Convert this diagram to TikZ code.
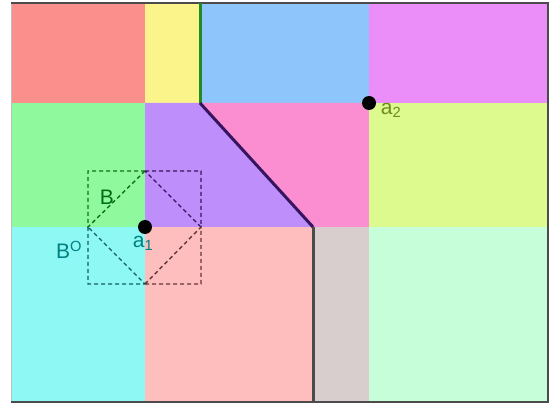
\documentclass[tikz,border=0pt]{standalone}
\usepackage{fontspec}
\setmainfont{Liberation Sans}
\definecolor{cRed}{RGB}{250,143,140}
\definecolor{cYellow}{RGB}{250,244,138}
\definecolor{cBlue}{RGB}{142,198,251}
\definecolor{cMagenta}{RGB}{236,142,249}
\definecolor{cGreen}{RGB}{143,249,157}
\definecolor{cPurple}{RGB}{190,142,250}
\definecolor{cPink}{RGB}{251,142,208}
\definecolor{cLime}{RGB}{220,250,141}
\definecolor{cCyan}{RGB}{142,249,244}
\definecolor{cLightPink}{RGB}{254,190,190}
\definecolor{cGrey}{RGB}{216,206,206}
\definecolor{cMint}{RGB}{197,254,217}
\definecolor{dGreen}{RGB}{20,110,30}
\definecolor{dPurple}{RGB}{55,20,95}
\definecolor{dTeal}{RGB}{20,95,95}
\definecolor{dBrown}{RGB}{100,55,55}
\definecolor{lTeal}{RGB}{0,128,128}
\definecolor{lOlive}{RGB}{110,140,30}
\definecolor{lGreen}{RGB}{0,110,20}
\definecolor{eGreen}{RGB}{34,139,34}
\definecolor{eGrey}{RGB}{75,75,75}
\begin{document}
\begin{tikzpicture}[x=1pt,y=-1pt,
  dashtri/.style={dashed, dash pattern=on 4pt off 3pt, line width=1.4pt},
  dot/.style={circle, fill=black, inner sep=0pt, minimum size=14pt},
  lbl/.style={font=\fontsize{21}{23}\selectfont, inner sep=0pt}]
\useasboundingbox (0,0) rectangle (552,406);
% top row
\fill[cRed] (11,3) rectangle (145,103);
\fill[cYellow] (145,3) rectangle (200,103);
\fill[cBlue] (200,3) rectangle (369,103);
\fill[cMagenta] (369,3) rectangle (548,103);
% middle row
\fill[cGreen] (11,103) rectangle (145,227);
\fill[cPurple] (145,103) -- (200,103) -- (313,227) -- (145,227) -- cycle;
\fill[cPink] (200,103) -- (369,103) -- (369,227) -- (313,227) -- cycle;
\fill[cLime] (369,103) rectangle (548,227);
% bottom row
\fill[cCyan] (11,227) rectangle (145,402);
\fill[cLightPink] (145,227) rectangle (313,402);
\fill[cGrey] (313,227) rectangle (369,402);
\fill[cMint] (369,227) rectangle (548,402);
% frame
\draw[line width=0.8pt, gray!50] (11,3) -- (11,402);
\draw[line width=2pt, eGrey] (11,3) -- (548,3) -- (548,402) -- (11,402);
% boundary lines
\coordinate (g1) at (200,3);
\coordinate (g2) at (200,103);
\coordinate (g3) at (313,227);
\coordinate (g4) at (313,402);
\draw[line width=3pt, eGreen] (g1) -- (g2);
\draw[line width=3pt, dPurple] (g2) -- (g3);
\draw[line width=3pt, eGrey] (g3) -- (g4);
% dashed square and diamond, per quadrant
\coordinate (c) at (145,227);
\coordinate (dt) at (145,171);
\coordinate (dr) at (201,227);
\coordinate (db) at (145,284);
\coordinate (dl) at (88,227);
\coordinate (sTL) at (88,171);
\coordinate (sTR) at (201,171);
\coordinate (sBR) at (201,284);
\coordinate (sBL) at (88,284);
\draw[dashtri, dGreen] (dt) -- (sTL) -- (dl) -- cycle;
\draw[dashtri, dPurple] (dt) -- (sTR) -- (dr) -- cycle;
\draw[dashtri, dTeal] (dl) -- (sBL) -- (db) -- cycle;
\draw[dashtri, dBrown] (db) -- (sBR) -- (dr) -- cycle;
% points
\node[dot] (a1) at (c) {};
\node[dot] (a2) at (369,103) {};
\node[lbl, text=lTeal] (la1) at (143,243) {a\textsubscript{1}};
\node[lbl, text=lOlive] (la2) at (391,110) {a\textsubscript{2}};
\node[lbl, text=lGreen] (lB) at (107,197) {B};
\node[lbl, text=lTeal] (lBO) at (69,250) {B\textsuperscript{O}};
\end{tikzpicture}
\end{document}
